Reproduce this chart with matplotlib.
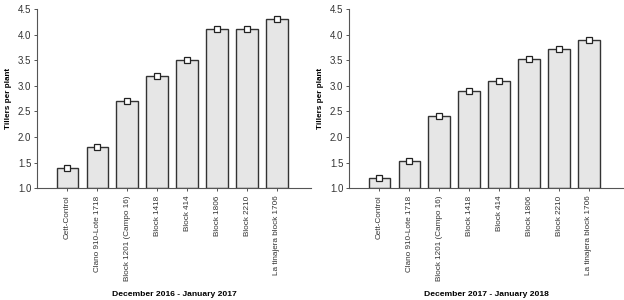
import numpy as np
import matplotlib
matplotlib.use('Agg')
import matplotlib.pyplot as plt

plt.rcParams['font.family'] = ['Liberation Sans Narrow', 'Liberation Sans', 'DejaVu Sans']

labels = ['Cett-Control', 'Clano 910-Lote 1718', 'Block 1201 (Campo 16)', 'Block 1418',
          'Block 414', 'Block 1806', 'Block 2210', 'La tinajera block 1706']
vals_2017 = [1.4, 1.8, 2.7, 3.2, 3.5, 4.1, 4.1, 4.3]
vals_2018 = [1.2, 1.52, 2.4, 2.89, 3.1, 3.52, 3.71, 3.9]
periods = ['December 2016 - January 2017', 'December 2017 - January 2018']

fig = plt.figure(figsize=(6.24, 3.0), dpi=100)
ax1 = fig.add_axes([0.059, 0.373, 0.44, 0.597])
ax2 = fig.add_axes([0.559, 0.373, 0.44, 0.597])

for ax, vals, per in zip([ax1, ax2], [vals_2017, vals_2018], periods):
    x = np.arange(len(labels))
    v = np.array(vals)
    ax.bar(x, v - 1.0, bottom=1.0, width=0.72, color='#e6e6e6', edgecolor='#333333', linewidth=1.0, zorder=2)
    ax.plot(x, v, 's', ms=4.5, mfc='white', mec='#222222', mew=0.9, zorder=3)
    ax.set_ylim(1.0, 4.5)
    ax.set_xlim(-1.02, 8.15)
    ax.set_yticks(np.arange(1.0, 4.51, 0.5))
    ax.set_yticklabels(['%.1f' % t for t in np.arange(1.0, 4.51, 0.5)])
    ax.set_xticks(x)
    ax.set_xticklabels(labels, rotation=90, fontsize=5.9)
    for s in ['top', 'right']:
        ax.spines[s].set_visible(False)
    for s in ['left', 'bottom']:
        ax.spines[s].set_color('#555555')
        ax.spines[s].set_linewidth(0.8)
    ax.tick_params(axis='y', labelsize=7)
    ax.tick_params(axis='both', colors='#555555', labelcolor='#333333', length=2.5, width=0.7, pad=1.5)
    ax.tick_params(axis='x', pad=3)
    ax.set_ylabel('Tillers per plant', fontsize=5.9, fontweight='bold', labelpad=4)
    ax.set_xlabel(per, fontsize=6.1, fontweight='bold', labelpad=7)

fig.savefig('out.png', dpi=100)
